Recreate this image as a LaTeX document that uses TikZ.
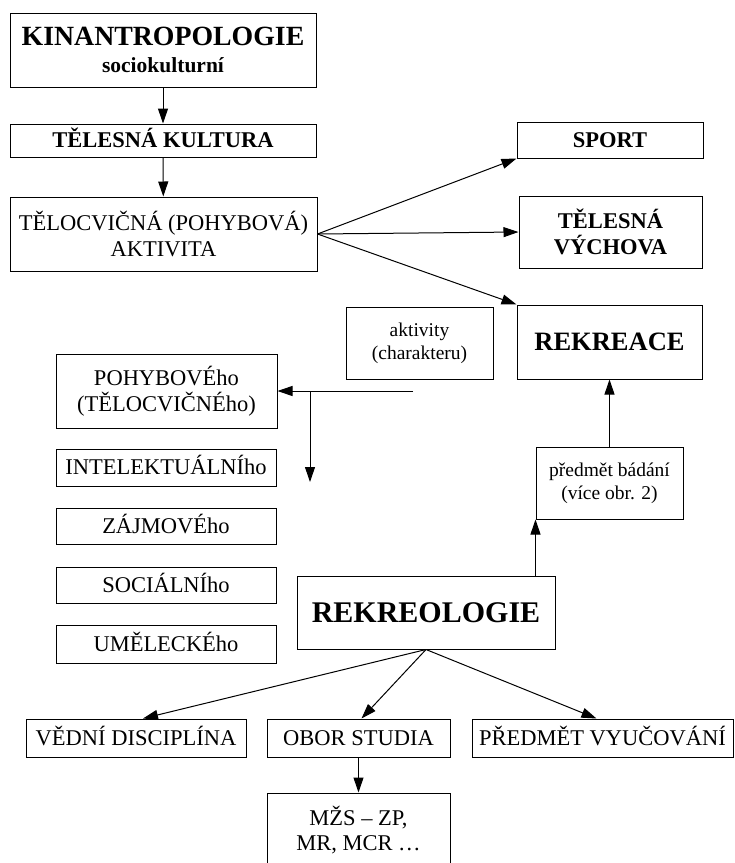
\documentclass[tikz,border=0pt]{standalone}
\usepackage{fontspec}
\setmainfont{Liberation Serif}
\usetikzlibrary{arrows.meta}

\tikzset{
  box/.style={draw, line width=1pt, inner sep=0pt,
    font=\fontsize{22.5}{25.5}\selectfont, text height=19.5pt, text depth=4.6pt},
  boldbox/.style={box, font=\fontsize{22.5}{25.5}\selectfont\bfseries},
  twoline/.style={align=center, text height=, text depth=},
  smallbox/.style={box, twoline, font=\fontsize{19.5}{23}\selectfont},
  link/.style={-{Triangle[length=15pt,width=10pt]}, line width=1pt},
}

\begin{document}
\begin{tikzpicture}[x=1pt,y=-1pt]
\clip (0,0) rectangle (735,863);

\node[box, twoline, minimum width=306pt, minimum height=74pt] (kin) at (163,50)
  {{\fontsize{27.8}{30}\selectfont\bfseries KINANTROPOLOGIE}\\[2pt]
   {\fontsize{21.5}{26}\selectfont\bfseries sociokulturní}};
\node[boldbox, minimum width=306pt, minimum height=33pt] (kultura) at (163,140.5) {TĚLESNÁ KULTURA};
\node[box, twoline, minimum width=307pt, minimum height=74pt] (aktivita) at (163.5,234)
  {TĚLOCVIČNÁ (POHYBOVÁ)\\AKTIVITA};

\node[boldbox, minimum width=186pt, minimum height=36pt] (sport) at (610,140) {SPORT};
\node[boldbox, twoline, minimum width=183pt, minimum height=72pt] (vychova) at (610.5,232) {TĚLESNÁ\\VÝCHOVA};
\node[box, minimum width=185pt, minimum height=74pt, font=\fontsize{26.5}{30}\selectfont\bfseries,
  text height=17.5pt, text depth=0pt] (rekreace) at (609.5,342) {REKREACE};
\node[smallbox, minimum width=147pt, minimum height=72pt] (charakter) at (419.5,343)
  {aktivity\\(charakteru)};

\node[box, twoline, minimum width=221pt, minimum height=74pt] (pohyb) at (166.5,391)
  {POHYBOVÉho\\(TĚLOCVIČNÉho)};
\node[box, minimum width=220pt, minimum height=37pt] (intel) at (166,467.5) {INTELEKTUÁLNÍho};
\node[box, minimum width=220pt, minimum height=36pt] (zajem) at (166,526) {ZÁJMOVÉho};
\node[box, minimum width=220pt, minimum height=36pt] (social) at (166,585) {SOCIÁLNÍho};
\node[box, minimum width=220pt, minimum height=38pt] (umeni) at (166,644) {UMĚLECKÉho};

\node[smallbox, minimum width=147pt, minimum height=72pt] (badani) at (609.5,483)
  {předmět bádání\\(více obr. 2)};
\node[box, minimum width=258pt, minimum height=73pt, font=\fontsize{30}{34}\selectfont\bfseries,
  text height=20pt, text depth=0pt] (rekreologie) at (426,612.5) {REKREOLOGIE};

\node[box, minimum width=220pt, minimum height=38pt] (veda) at (136,738) {VĚDNÍ DISCIPLÍNA};
\node[box, minimum width=183pt, minimum height=38pt] (obor) at (358.5,738) {OBOR STUDIA};
\node[box, minimum width=261pt, minimum height=38pt] (vyuka) at (602.5,738) {PŘEDMĚT VYUČOVÁNÍ};
\node[box, twoline, minimum width=183pt, minimum height=74pt] (mzs) at (358.5,830) {MŽS – ZP,\\MR, MCR …};

\coordinate (rozcesti) at (310,391);
\coordinate (konec) at (413,391);
\coordinate (dolu) at (310,482);

\draw[link] (kin) -- (kultura);
\draw[link] (kultura) -- (aktivita);
\draw[link] (aktivita.east) -- (sport.south west);
\draw[link] (aktivita.east) -- (vychova.west);
\draw[link] (aktivita.east) -- (rekreace.north west);
\draw[link] (konec) -- (pohyb.east);
\draw[link] (rozcesti) -- (dolu);
\draw[link] (rekreologie.north -| badani.south west) -- (badani.south west);
\draw[link] (badani) -- (rekreace);
\draw[link] (rekreologie.south) -- ([xshift=7pt]veda.north);
\draw[link] (rekreologie.south) -- ([xshift=3pt]obor.north);
\draw[link] (rekreologie.south) -- ([xshift=-6pt]vyuka.north);
\draw[link] (obor) -- (mzs);
\end{tikzpicture}
\end{document}
